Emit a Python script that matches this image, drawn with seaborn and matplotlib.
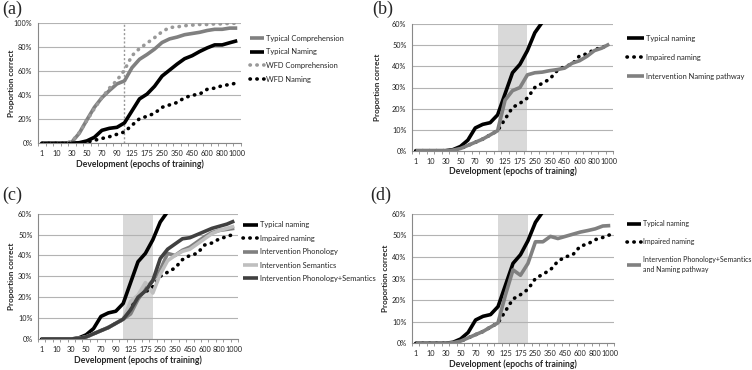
import matplotlib
matplotlib.use("Agg")
import matplotlib.pyplot as plt
import matplotlib.ticker as mticker
import matplotlib.transforms as mtransforms
import seaborn as sns
import pandas as pd

# x categories (epochs of training); every other one is labelled
epochs = ["1", "5", "10", "20", "30", "40", "50", "60", "70", "80", "90", "100",
          "125", "150", "175", "200", "250", "300", "350", "400", "450", "500",
          "600", "700", "800", "900", "1000"]

# values in percent
typical_comprehension = [0, 0, 0, 0, 1, 8.5, 19.5, 30, 38, 44, 49.5, 52, 63, 70, 74, 78.5,
                         84, 87, 88.5, 90.5, 91.5, 92.5, 94, 95, 95, 96, 96]
wfd_comprehension = [0, 0, 0, 0, 1.5, 9, 19, 29, 38, 46, 52.5, 61, 73, 79, 83.5, 88,
                     93, 96.5, 97, 98, 98.5, 99, 99, 99.5, 99.5, 100, 100]
typical_naming = [0, 0, 0, 0, 0, 0.5, 2, 5, 10.8, 12.5, 13.3, 17, 27, 37, 41, 47.5,
                  56, 61, 66, 70.5, 73, 76.5, 79.5, 82, 82, 83.8, 85.5]
impaired_naming = [0, 0, 0, 0, 0, 0.3, 1, 2.5, 4, 5.5, 7.5, 9.5, 15, 20.5, 22.5, 25,
                   30, 32, 34, 38, 40, 41, 45, 46, 48, 49, 50.3]
before = impaired_naming[:12]
naming_pathway = before + [24, 28.5, 30, 36, 37, 37.3, 38, 38.5, 39.2, 41.5, 42.7,
                           44.8, 47.5, 48.7, 50.6]
phonology = before + [12, 19, 24, 28, 33, 41, 40, 42.5, 44, 46.5, 49, 51, 52, 52.5, 53]
semantics = before + [18, 21, 27, 22, 31, 37.5, 40, 42, 43, 45.5, 48, 50.5, 52, 53, 54]
phon_sem = before + [14, 20, 23, 28, 38.5, 43, 45.5, 48, 48.5, 50, 51.5, 53, 54, 55, 56.5]
phon_sem_naming = before + [22.5, 34, 31.5, 37, 47, 47, 49.5, 48.5, 49.5, 50.5, 51.5,
                            52.2, 53, 54.3, 54.5]

intervention_start = "100"
intervention_end = "200"

sns.set_style("white")
plt.rcParams["font.family"] = ["Lato", "DejaVu Sans"]

W, H = 752, 370
fig = plt.figure(figsize=(W / 100, H / 100), dpi=100)


def fx(x):
    return x / W


def fy(y):
    return 1 - y / H


def make_axes(x0, y0, x1, y1):
    return fig.add_axes([fx(x0), fy(y1), fx(x1 - x0), (y1 - y0) / H])


DOT = (0.1, 1.8)


def draw(ax, series, ymax, step):
    for label, values, color, dotted in series:
        df = pd.DataFrame({"epoch": epochs, "value": [v / 100 for v in values]})
        kw = dict(dashes=DOT, dash_capstyle="round") if dotted else dict(solid_capstyle="butt")
        sns.lineplot(data=df, x="epoch", y="value", ax=ax, color=color, lw=2.6,
                     sort=False, estimator=None, label=label, zorder=3, **kw)
    ax.set_xlim(-0.5, len(epochs) - 0.5)
    ax.set_ylim(0, ymax)
    ax.yaxis.set_major_locator(mticker.MultipleLocator(step))
    ax.yaxis.set_major_formatter(mticker.PercentFormatter(1.0, decimals=0))
    ax.set_xticks(range(0, len(epochs), 2))
    ax.set_xticklabels(epochs[::2])
    ax.set_xticks([i - 0.5 for i in range(len(epochs) + 1)], minor=True)
    ax.tick_params(axis="x", which="major", length=0, pad=5, labelsize=5.3, colors="#222222")
    ax.tick_params(axis="x", which="minor", length=2.5, width=0.6, color="#888888", bottom=True)
    ax.tick_params(axis="y", length=0, pad=4, labelsize=5.2, colors="#222222")
    ax.grid(axis="y", color="#b3b3b3", lw=0.8)
    ax.grid(axis="x", visible=False)
    for s in ["top", "right"]:
        ax.spines[s].set_visible(False)
    for s in ["left", "bottom"]:
        ax.spines[s].set_color("#888888")
        ax.spines[s].set_linewidth(0.8)
    ax.set_xlabel("Development (epochs of training)", fontsize=6.2, fontweight="bold")
    ax.set_ylabel("Proportion correct", fontsize=5.9, fontweight="bold")


def legend(ax, x, y, spacing, hl, size=5.4):
    return ax.legend(loc="upper left", bbox_to_anchor=(fx(x), fy(y)),
                     bbox_transform=fig.transFigure, frameon=False, fontsize=size,
                     borderpad=0, borderaxespad=0, handlelength=hl, handletextpad=0.3,
                     labelspacing=spacing)


def labels_at(ax, ylab_x, xlab_y):
    ax.yaxis.set_label_coords(fx(ylab_x), 0.5)
    ax.yaxis.label.set_transform(
        mtransforms.blended_transform_factory(fig.transFigure, ax.transAxes))
    ax.xaxis.set_label_coords(0.5, fy(xlab_y))
    ax.xaxis.label.set_transform(
        mtransforms.blended_transform_factory(ax.transAxes, fig.transFigure))


def shade(ax):
    ax.axvspan(epochs.index(intervention_start), epochs.index(intervention_end),
               color="#d9d9d9", lw=0, zorder=0)


BLACK, GRAY, LIGHT, DARK = "#000000", "#808080", "#bfbfbf", "#404040"

# (a)
ax_a = make_axes(38, 23.3, 241, 143.3)
draw(ax_a, [("Typical Comprehension", typical_comprehension, GRAY, False),
            ("Typical Naming", typical_naming, BLACK, False),
            ("WFD Comprehension", wfd_comprehension, "#999999", True),
            ("WFD Naming", impaired_naming, BLACK, True)], 1.0, 0.2)
ax_a.axvline(epochs.index(intervention_start), color="#999999", lw=1, ls=(0, (1.5, 1.5)), zorder=2)
legend(ax_a, 250, 34.5, 0.9, 1.9)
labels_at(ax_a, 15, 159.5)

# (b)
ax_b = make_axes(412, 24.3, 613, 150.7)
shade(ax_b)
draw(ax_b, [("Typical naming", typical_naming, BLACK, False),
            ("Impaired naming", impaired_naming, BLACK, True),
            ("Intervention Naming pathway", naming_pathway, GRAY, False)], 0.6, 0.1)
legend(ax_b, 627, 35, 1.6, 2.2)
labels_at(ax_b, 381, 166)

# (c)
ax_c = make_axes(38, 213.7, 238, 339)
shade(ax_c)
draw(ax_c, [("Typical naming", typical_naming, BLACK, False),
            ("Impaired naming", impaired_naming, BLACK, True),
            ("Intervention Phonology", phonology, GRAY, False),
            ("Intervention Semantics", semantics, LIGHT, False),
            ("Intervention Phonology+Semantics", phon_sem, DARK, False)], 0.6, 0.1)
legend(ax_c, 243, 221.5, 0.85, 2.0)
labels_at(ax_c, 15, 355)

# (d)
ax_d = make_axes(412, 213.7, 614, 343.3)
shade(ax_d)
draw(ax_d, [("Typical naming", typical_naming, BLACK, False),
            ("Impaired naming", impaired_naming, BLACK, True),
            ("Intervention Phonology+Semantics\nand Naming pathway", phon_sem_naming, GRAY, False)],
     0.6, 0.1)
leg_d = legend(ax_d, 627, 220, 1.6, 2.0, size=5.0)
for t in leg_d.get_texts():
    t.set_linespacing(1.45)
labels_at(ax_d, 389, 359.5)

for lab, x, y in [("(a)", 2, 1), ("(b)", 372, 1), ("(c)", 2, 187), ("(d)", 370, 187)]:
    fig.text(fx(x), fy(y), lab, family="Liberation Serif", fontsize=13, ha="left", va="top")

fig.savefig("out.png", dpi=100)
